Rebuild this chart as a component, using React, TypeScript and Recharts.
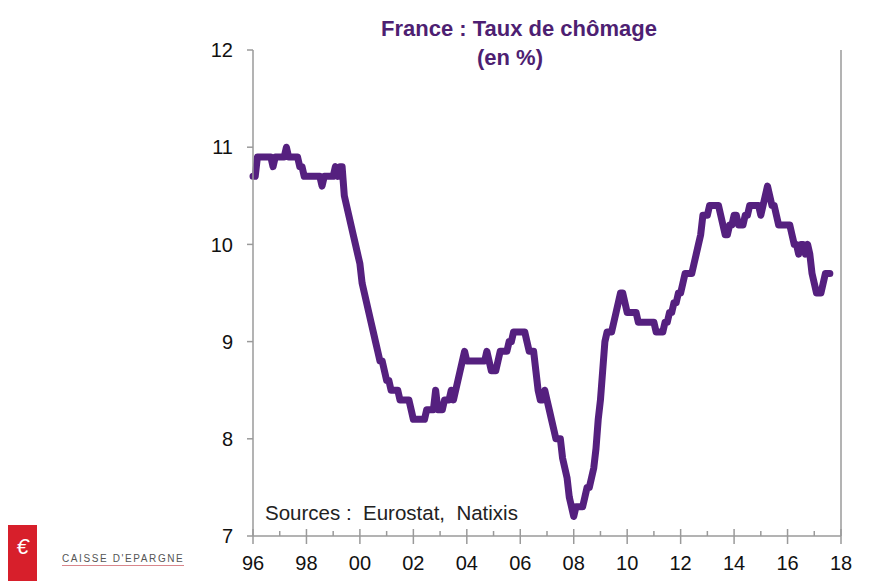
import { LineChart, Line, XAxis, YAxis } from 'recharts';

// monthly unemployment rate, France, from Jan 1996
const firstYear = 1996;
const rate = [
  10.7, 10.7, 10.9, 10.9, 10.9, 10.9, 10.9, 10.9, 10.9, 10.8, 10.9, 10.9, // 1996
  10.9, 10.9, 10.9, 11.0, 10.9, 10.9, 10.9, 10.9, 10.9, 10.8, 10.8, 10.7, // 1997
  10.7, 10.7, 10.7, 10.7, 10.7, 10.7, 10.7, 10.6, 10.7, 10.7, 10.7, 10.7, // 1998
  10.7, 10.8, 10.7, 10.8, 10.8, 10.5, 10.4, 10.3, 10.2, 10.1, 10.0, 9.9, // 1999
  9.8, 9.6, 9.5, 9.4, 9.3, 9.2, 9.1, 9.0, 8.9, 8.8, 8.8, 8.7, // 2000
  8.6, 8.6, 8.5, 8.5, 8.5, 8.5, 8.4, 8.4, 8.4, 8.4, 8.4, 8.3, // 2001
  8.2, 8.2, 8.2, 8.2, 8.2, 8.2, 8.3, 8.3, 8.3, 8.3, 8.5, 8.3, // 2002
  8.3, 8.3, 8.4, 8.4, 8.4, 8.5, 8.4, 8.5, 8.6, 8.7, 8.8, 8.9, // 2003
  8.8, 8.8, 8.8, 8.8, 8.8, 8.8, 8.8, 8.8, 8.8, 8.9, 8.8, 8.7, // 2004
  8.7, 8.7, 8.8, 8.9, 8.9, 8.9, 8.9, 9.0, 9.0, 9.1, 9.1, 9.1, // 2005
  9.1, 9.1, 9.1, 9.0, 8.9, 8.9, 8.9, 8.7, 8.5, 8.4, 8.4, 8.5, // 2006
  8.4, 8.3, 8.2, 8.1, 8.0, 8.0, 8.0, 7.8, 7.7, 7.6, 7.4, 7.3, // 2007
  7.2, 7.3, 7.3, 7.3, 7.3, 7.4, 7.5, 7.5, 7.6, 7.7, 7.9, 8.2, // 2008
  8.4, 8.7, 9.0, 9.1, 9.1, 9.1, 9.2, 9.3, 9.4, 9.5, 9.5, 9.4, // 2009
  9.3, 9.3, 9.3, 9.3, 9.3, 9.2, 9.2, 9.2, 9.2, 9.2, 9.2, 9.2, // 2010
  9.2, 9.1, 9.1, 9.1, 9.1, 9.2, 9.2, 9.3, 9.3, 9.4, 9.4, 9.5, // 2011
  9.5, 9.6, 9.7, 9.7, 9.7, 9.7, 9.8, 9.9, 10.0, 10.1, 10.3, 10.3, // 2012
  10.3, 10.4, 10.4, 10.4, 10.4, 10.4, 10.3, 10.2, 10.1, 10.1, 10.2, 10.2, // 2013
  10.3, 10.3, 10.2, 10.2, 10.2, 10.3, 10.3, 10.4, 10.4, 10.4, 10.4, 10.4, // 2014
  10.3, 10.4, 10.5, 10.6, 10.5, 10.4, 10.4, 10.3, 10.2, 10.2, 10.2, 10.2, // 2015
  10.2, 10.2, 10.1, 10.0, 10.0, 9.9, 10.0, 10.0, 9.9, 10.0, 9.9, 9.7, // 2016
  9.6, 9.5, 9.5, 9.5, 9.6, 9.7, 9.7, 9.7, // 2017
];

const yearTicks = [
  1996, 1997, 1998, 1999, 2000, 2001, 2002, 2003, 2004, 2005, 2006, 2007,
  2008, 2009, 2010, 2011, 2012, 2013, 2014, 2015, 2016, 2017, 2018,
];
const yTicks = [7, 8, 9, 10, 11, 12];

const data = rate.map((v, i) => ({ t: firstYear + i / 12, rate: v }));

const axisColor = '#9a9a9a';
const purple = '#55207f';
const font = '"Liberation Sans", Arial, sans-serif';

function YearTick(props: any) {
  const { x, y, payload } = props;
  const year = payload.value as number;
  const major = year % 2 === 0;
  return (
    <g>
      <line
        x1={x}
        x2={x}
        y1={major ? y - 7 : y - 5}
        y2={major ? y + 8 : y}
        stroke={axisColor}
        strokeWidth={1.5}
      />
      {major && (
        <text
          x={x}
          y={y + 34}
          textAnchor="middle"
          fill="#111"
          fontSize={20}
          fontFamily={font}
        >
          {String(year % 100).padStart(2, '0')}
        </text>
      )}
    </g>
  );
}

function Logo() {
  return (
    <div style={{ position: 'absolute', left: 8, top: 525, width: 180, height: 56 }}>
      <div
        style={{
          position: 'absolute',
          left: 0,
          top: 0,
          width: 29,
          height: 56,
          background: '#d71f2b',
          color: '#fff',
          fontFamily: font,
          fontStyle: 'italic',
          fontSize: 22,
          textAlign: 'center',
          lineHeight: '44px',
        }}
      >
        €
      </div>
      <div
        style={{
          position: 'absolute',
          left: 54,
          top: 28,
          fontFamily: font,
          fontSize: 10,
          letterSpacing: 1.6,
          color: '#555',
          borderBottom: '1.5px solid #d9868c',
          lineHeight: '11px',
          paddingBottom: 1,
        }}
      >
        CAISSE D'EPARGNE
      </div>
    </div>
  );
}

export default function App() {
  return (
    <div style={{ position: 'absolute', left: 0, top: 0, width: 891, height: 581, background: '#fff' }}>
      <LineChart
        width={891}
        height={581}
        data={data}
        margin={{ top: 50, right: 0, left: 193, bottom: 15 }}
      >
        <XAxis
          dataKey="t"
          type="number"
          domain={[1996, 2018]}
          ticks={yearTicks}
          interval={0}
          height={30}
          tickSize={0}
          tickMargin={0}
          tickLine={false}
          tick={<YearTick />}
          stroke={axisColor}
          strokeWidth={1.5}
          yAxisId="left"
        />
        <YAxis
          yAxisId="left"
          domain={[7, 12]}
          ticks={yTicks}
          width={60}
          tickSize={6}
          tickMargin={14}
          stroke={axisColor}
          strokeWidth={1.5}
          tick={{ fill: '#111', fontSize: 20, fontFamily: font }}
        />
        <YAxis
          yAxisId="right"
          orientation="right"
          domain={[7, 12]}
          ticks={yTicks}
          width={50}
          tickSize={6}
          tickMargin={16}
          stroke={axisColor}
          strokeWidth={1.5}
          tick={{ fill: '#111', fontSize: 20, fontFamily: font }}
        />
        <Line
          yAxisId="left"
          type="linear"
          dataKey="rate"
          stroke={purple}
          strokeWidth={7}
          strokeLinejoin="round"
          strokeLinecap="round"
          dot={false}
          isAnimationActive={false}
        />
      </LineChart>
      <div
        style={{
          position: 'absolute',
          left: 319,
          width: 400,
          top: 14,
          textAlign: 'center',
          fontFamily: font,
          fontWeight: 'bold',
          fontSize: 22,
          lineHeight: '29px',
          color: '#4e1f72',
        }}
      >
        France : Taux de chômage
        <br />
        <span style={{ marginRight: 18 }}>(en %)</span>
      </div>
      <div
        style={{
          position: 'absolute',
          left: 265,
          top: 501,
          fontFamily: font,
          fontSize: 20.5,
          color: '#222',
          whiteSpace: 'pre',
        }}
      >
        {'Sources :  Eurostat,  Natixis'}
      </div>
      <Logo />
    </div>
  );
}
